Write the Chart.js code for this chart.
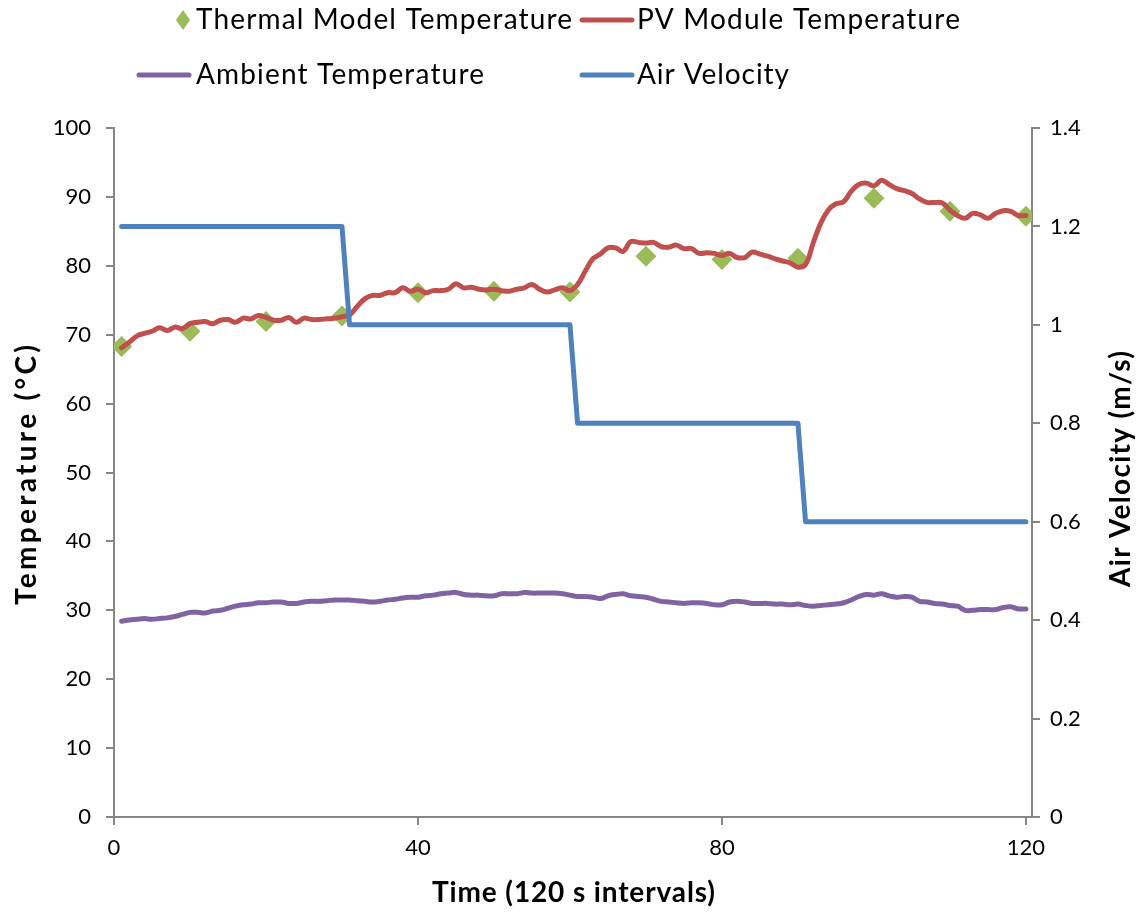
<!DOCTYPE html>
<html>
<head>
<meta charset="utf-8">
<script src="https://cdn.jsdelivr.net/npm/chart.js@4.4.1/dist/chart.umd.min.js"></script>
<style>
  html, body { margin: 0; padding: 0; background: #ffffff; }
  canvas { display: block; }
</style>
</head>
<body>
<canvas id="tempChart" width="1145" height="913"></canvas>
<script>
// PV module temperature, one reading per 120 s interval (1..120)
const pvTemp = [
  68.1, 68.9, 69.8, 70.2, 70.5, 71.0, 70.6, 71.1, 70.9, 71.6,
  71.8, 71.9, 71.6, 72.1, 72.2, 71.8, 72.4, 72.3, 72.8, 72.5,
  72.1, 72.1, 72.5, 71.8, 72.4, 72.2, 72.2, 72.3, 72.4, 72.6,
  72.9, 74.1, 75.2, 75.7, 75.7, 76.1, 76.1, 76.8, 76.3, 76.6,
  76.1, 76.4, 76.4, 76.6, 77.4, 76.8, 76.9, 76.6, 76.5, 76.6,
  76.4, 76.3, 76.6, 76.8, 77.3, 76.6, 76.2, 76.5, 76.8, 76.4,
  77.3, 79.2, 81.0, 81.7, 82.6, 82.6, 82.1, 83.5, 83.4, 83.3,
  83.4, 82.8, 82.7, 83.0, 82.5, 82.5, 81.8, 81.9, 81.8, 81.5,
  81.8, 81.2, 81.2, 82.0, 81.7, 81.4, 81.0, 80.7, 80.4, 79.8,
  80.2, 83.3, 86.2, 88.1, 89.0, 89.3, 90.8, 91.8, 92.0, 91.6,
  92.4, 91.8, 91.2, 90.9, 90.5, 89.7, 89.2, 89.2, 89.1, 88.1,
  87.3, 86.9, 87.6, 87.4, 86.9, 87.6, 88.0, 87.9, 87.3, 87.3
];

// ambient temperature over the same intervals
const ambientTemp = [
  28.4, 28.6, 28.7, 28.8, 28.7, 28.8, 28.9, 29.1, 29.4, 29.7,
  29.7, 29.6, 29.9, 30.0, 30.3, 30.6, 30.8, 30.9, 31.1, 31.1,
  31.2, 31.2, 31.0, 31.0, 31.2, 31.3, 31.3, 31.4, 31.5, 31.5,
  31.5, 31.4, 31.3, 31.2, 31.3, 31.5, 31.6, 31.8, 31.9, 31.9,
  32.1, 32.2, 32.4, 32.5, 32.6, 32.3, 32.2, 32.2, 32.1, 32.1,
  32.4, 32.4, 32.4, 32.6, 32.5, 32.5, 32.5, 32.5, 32.4, 32.2,
  32.0, 32.0, 31.9, 31.7, 32.1, 32.3, 32.4, 32.1, 32.0, 31.9,
  31.6, 31.3, 31.2, 31.1, 31.0, 31.1, 31.1, 31.0, 30.8, 30.8,
  31.2, 31.3, 31.2, 31.0, 31.0, 31.0, 30.9, 30.9, 30.8, 30.9,
  30.7, 30.6, 30.7, 30.8, 30.9, 31.1, 31.5, 32.0, 32.3, 32.2,
  32.4, 32.1, 31.9, 32.0, 31.9, 31.3, 31.2, 31.0, 30.9, 30.7,
  30.6, 30.0, 30.0, 30.1, 30.1, 30.1, 30.4, 30.5, 30.2, 30.2
];

// thermal model predictions, every 10th interval
const thermalTime = [1, 10, 20, 30, 40, 50, 60, 70, 80, 90, 100, 110, 120];
const thermalTemp = [68.3, 70.5, 71.9, 72.7, 76.1, 76.3, 76.2, 81.4, 80.9, 81.1, 89.8, 87.9, 87.2];

// fan air velocity, stepped down every 30 intervals
const airTime = [1, 30, 31, 60, 61, 90, 91, 120];
const airVelocity = [1.2, 1.2, 1.0, 1.0, 0.8, 0.8, 0.6, 0.6];

const timeTicks = [0, 40, 80, 120];

const FONT = 'Lato';
const GREY = '#868686';
const GREEN = '#9BBB59';
const RED = '#C0504D';
const PURPLE = '#8064A2';
const BLUE = '#4F81BD';

const toPoints = (xs, ys) => ys.map((y, i) => ({ x: xs[i], y: y }));
const byInterval = ys => ys.map((y, i) => ({ x: i + 1, y: y }));

// draws left-aligned text stretched to a given run length via letter spacing
function spacedText(ctx, text, x, y, width) {
  ctx.letterSpacing = '0px';
  const w = ctx.measureText(text).width;
  const gap = (width - w) / (text.length - 1);
  ctx.letterSpacing = gap.toFixed(2) + 'px';
  ctx.fillText(text, x, y);
  ctx.letterSpacing = '0px';
}

// two-row legend and the three axis titles
const chartDecor = {
  id: 'chartDecor',
  afterDraw(chart) {
    const ctx = chart.ctx;
    ctx.save();
    ctx.font = '28px ' + FONT;
    ctx.textBaseline = 'middle';
    ctx.textAlign = 'left';

    const items = [
      { text: 'Thermal Model Temperature', kind: 'diamond', color: GREEN, x0: 183, tx: 196, w: 376, y: 20 },
      { text: 'PV Module Temperature', kind: 'line', color: RED, x0: 582, x1: 632, tx: 637, w: 323, y: 20 },
      { text: 'Ambient Temperature', kind: 'line', color: PURPLE, x0: 139, x1: 189, tx: 196, w: 288, y: 75 },
      { text: 'Air Velocity', kind: 'line', color: BLUE, x0: 582, x1: 632, tx: 637, w: 152, y: 75 }
    ];
    items.forEach(it => {
      if (it.kind === 'diamond') {
        ctx.fillStyle = it.color;
        ctx.beginPath();
        ctx.moveTo(it.x0, it.y - 10);
        ctx.lineTo(it.x0 + 7, it.y);
        ctx.lineTo(it.x0, it.y + 10);
        ctx.lineTo(it.x0 - 7, it.y);
        ctx.closePath();
        ctx.fill();
      } else {
        ctx.strokeStyle = it.color;
        ctx.lineWidth = 5;
        ctx.lineCap = 'round';
        ctx.beginPath();
        ctx.moveTo(it.x0, it.y);
        ctx.lineTo(it.x1, it.y);
        ctx.stroke();
      }
      ctx.fillStyle = '#000';
      spacedText(ctx, it.text, it.tx, it.y, it.w);
    });

    ctx.font = 'bold 28px ' + FONT;
    ctx.fillStyle = '#000';

    // x axis title
    spacedText(ctx, 'Time (120 s intervals)', 432, 893, 283);

    // left axis title
    ctx.save();
    ctx.translate(27, 475);
    ctx.rotate(-Math.PI / 2);
    spacedText(ctx, 'Temperature (°C)', -130, 0, 260);
    ctx.restore();

    // right axis title, reads bottom to top
    ctx.save();
    ctx.translate(1121, 469);
    ctx.rotate(-Math.PI / 2);
    spacedText(ctx, 'Air Velocity (m/s)', -118, 0, 236);
    ctx.restore();

    ctx.restore();
  }
};

const axisGrid = { drawOnChartArea: false, drawTicks: true, tickLength: 8, color: GREY, lineWidth: 2 };
const axisBorder = { display: true, color: GREY, width: 2 };
const tickFont = { family: FONT, size: 22 };

new Chart(document.getElementById('tempChart'), {
  type: 'line',
  data: {
    datasets: [
      {
        label: 'Thermal Model Temperature',
        data: toPoints(thermalTime, thermalTemp),
        yAxisID: 'y',
        showLine: false,
        pointStyle: 'rectRot',
        pointRadius: 10.5,
        pointHoverRadius: 10.5,
        pointBackgroundColor: GREEN,
        pointBorderColor: GREEN,
        pointBorderWidth: 0,
        order: 2
      },
      {
        label: 'PV Module Temperature',
        data: byInterval(pvTemp),
        yAxisID: 'y',
        borderColor: RED,
        borderWidth: 5,
        tension: 0.4,
        pointRadius: 0,
        borderCapStyle: 'round',
        order: 1
      },
      {
        label: 'Ambient Temperature',
        data: byInterval(ambientTemp),
        yAxisID: 'y',
        borderColor: PURPLE,
        borderWidth: 5,
        tension: 0.4,
        pointRadius: 0,
        borderCapStyle: 'round',
        order: 3
      },
      {
        label: 'Air Velocity',
        data: toPoints(airTime, airVelocity),
        yAxisID: 'y1',
        borderColor: BLUE,
        borderWidth: 5,
        tension: 0,
        pointRadius: 0,
        borderCapStyle: 'round',
        borderJoinStyle: 'round',
        order: 0
      }
    ]
  },
  options: {
    responsive: false,
    animation: false,
    layout: { padding: { top: 128, left: 0, right: 0, bottom: 0 } },
    plugins: {
      legend: { display: false },
      tooltip: { enabled: false }
    },
    scales: {
      x: {
        type: 'linear',
        min: 0,
        max: 120.8,
        afterBuildTicks: scale => {
          scale.ticks = timeTicks.map(v => ({ value: v }));
        },
        afterFit: scale => { scale.height = 96; },
        ticks: { color: '#000', font: tickFont, padding: 10, maxRotation: 0 },
        grid: axisGrid,
        border: axisBorder
      },
      y: {
        position: 'left',
        min: 0,
        max: 100,
        afterFit: scale => { scale.width = 114; },
        ticks: { stepSize: 10, color: '#000', font: tickFont, padding: 15 },
        grid: axisGrid,
        border: axisBorder
      },
      y1: {
        position: 'right',
        min: 0,
        max: 1.4,
        afterFit: scale => { scale.width = 113; },
        ticks: {
          stepSize: 0.2,
          color: '#000',
          font: tickFont,
          padding: 10,
          callback: v => String(Math.round(v * 10) / 10)
        },
        grid: axisGrid,
        border: axisBorder
      }
    }
  },
  plugins: [chartDecor]
});
</script>
</body>
</html>
